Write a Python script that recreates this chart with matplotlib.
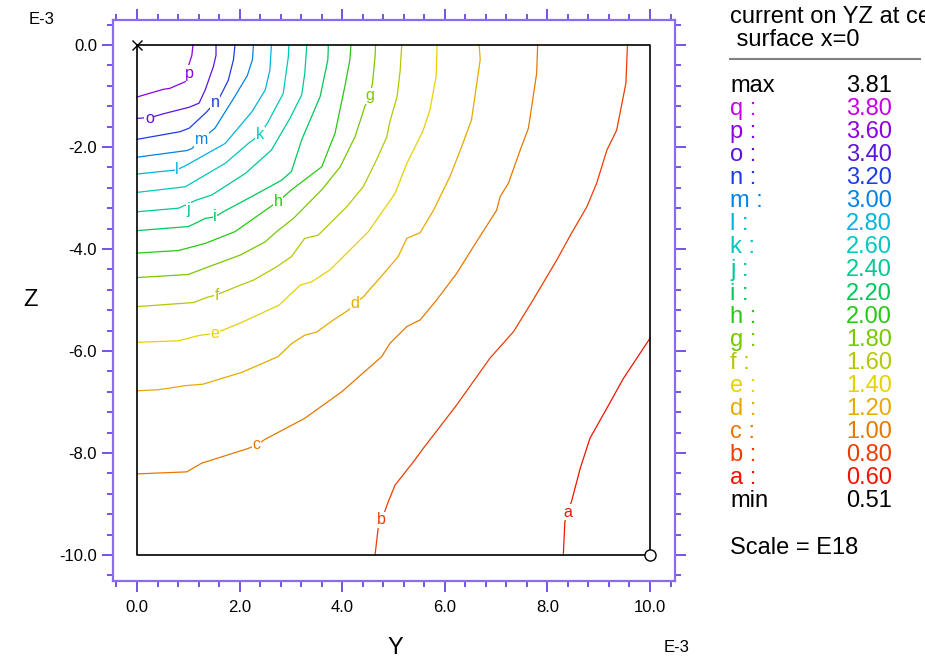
import numpy as np
import matplotlib
matplotlib.use("Agg")
import matplotlib.pyplot as plt
from matplotlib.ticker import MultipleLocator

plt.rcParams['font.family'] = ['Liberation Sans', 'DejaVu Sans']

# contour levels (scale E18)
level_names = list("abcdefghijklmnopq")
level_values = [0.60, 0.80, 1.00, 1.20, 1.40, 1.60, 1.80, 2.00, 2.20,
                2.40, 2.60, 2.80, 3.00, 3.20, 3.40, 3.60, 3.80]
level_colors = ['#f01400', '#f03c00', '#e67800', '#e6aa00', '#e6d200',
                '#b4c800', '#78c800', '#28c814', '#00c85a', '#00c896',
                '#00c8c0', '#00b4dc', '#0082e6', '#1e3ce6', '#5a14dc',
                '#8c00e6', '#c800e6']
value_max = 3.81
value_min = 0.51

# contour lines, Y and Z in E-3
a_y = [10.0, 9.48, 9.16, 8.83, 8.64, 8.47, 8.39, 8.34, 8.31]
a_z = [-5.75, -6.54, -7.12, -7.71, -8.30, -8.95, -9.16, -9.35, -10.0]
b_y = [9.56, 9.53, 9.35, 9.16, 8.96, 8.77, 8.47, 8.18, 7.72, 7.34, 6.88,
       6.23, 5.58, 5.39, 5.03, 4.90, 4.77, 4.70, 4.64]
b_z = [0.0, -0.75, -1.67, -2.06, -2.71, -3.17, -3.69, -4.22, -5.00, -5.62,
       -6.14, -7.06, -7.91, -8.17, -8.63, -8.95, -9.31, -9.48, -10.0]
c_y = [7.81, 7.79, 7.63, 7.47, 7.24, 7.08, 7.01, 6.56, 6.23, 5.84, 5.52,
       5.26, 4.93, 4.77, 4.51, 3.99, 3.27, 2.50, 2.33, 2.17, 1.26, 0.97, 0.0]
c_z = [0.0, -0.56, -1.63, -2.06, -2.71, -2.97, -3.24, -3.95, -4.48, -5.00,
       -5.39, -5.52, -5.85, -6.11, -6.34, -6.80, -7.32, -7.73, -7.84, -7.91,
       -8.20, -8.37, -8.41]
d_y = [6.67, 6.69, 6.52, 6.33, 6.10, 5.78, 5.52, 5.26, 5.09, 4.87, 4.41,
       4.25, 4.12, 3.83, 3.50, 3.27, 3.02, 2.75, 2.04, 1.29, 0.94, 0.42, 0.0]
d_z = [0.0, -0.29, -1.47, -1.99, -2.58, -3.24, -3.68, -3.79, -4.15, -4.41,
       -4.94, -5.06, -5.20, -5.39, -5.63, -5.69, -5.85, -6.11, -6.42, -6.65,
       -6.68, -6.76, -6.78]
e_y = [5.85, 5.83, 5.71, 5.58, 5.39, 5.26, 5.03, 4.51, 4.15, 3.76, 3.41,
       3.18, 2.77, 2.04, 1.75, 1.52, 1.19, 0.81, 0.0]
e_z = [0.0, -0.62, -1.27, -1.67, -2.06, -2.32, -2.91, -3.66, -4.02, -4.41,
       -4.64, -4.71, -5.10, -5.44, -5.56, -5.65, -5.70, -5.80, -5.83]
f_y = [5.16, 5.13, 5.07, 4.93, 4.87, 4.67, 4.41, 4.09, 3.53, 3.27, 3.01,
       2.72, 2.27, 2.01, 1.55, 1.36, 1.10, 0.0]
f_z = [0.0, -0.50, -1.01, -1.50, -1.80, -2.25, -2.78, -3.17, -3.73, -3.79,
       -4.15, -4.35, -4.61, -4.71, -4.90, -4.95, -5.05, -5.13]
g_y = [4.65, 4.64, 4.59, 4.53, 4.44, 4.25, 3.96, 3.60, 3.05, 2.72, 2.50,
       2.01, 1.26, 1.00, 0.0]
g_z = [0.0, -0.23, -0.75, -1.01, -1.21, -1.80, -2.39, -2.84, -3.40, -3.66,
       -3.86, -4.12, -4.40, -4.50, -4.56]
h_y = [4.17, 4.15, 4.05, 3.86, 3.60, 3.01, 2.75, 2.56, 1.91, 1.33, 0.81, 0.0]
h_z = [0.0, -0.29, -0.82, -1.73, -2.39, -2.84, -3.07, -3.20, -3.66, -3.89,
       -4.03, -4.08]
i_y = [3.73, 3.72, 3.57, 3.21, 3.01, 2.82, 2.24, 1.68, 1.52, 1.33, 1.13,
       1.00, 0.0]
i_z = [0.0, -0.29, -1.01, -1.86, -2.48, -2.65, -2.97, -3.27, -3.37, -3.40,
       -3.50, -3.56, -3.64]
j_y = [3.31, 3.27, 3.21, 2.98, 2.62, 2.11, 1.46, 1.16, 0.81, 0.0]
j_z = [0.0, -0.56, -0.98, -1.44, -2.06, -2.52, -2.94, -3.04, -3.20, -3.27]
k_y = [2.96, 2.95, 2.85, 2.56, 2.40, 2.17, 1.72, 0.94, 0.0]
k_z = [0.0, -0.23, -0.95, -1.50, -1.76, -1.93, -2.32, -2.78, -2.89]
l_y = [2.62, 2.59, 2.50, 2.24, 1.72, 0.94, 0.77, 0.0]
l_z = [0.0, -0.49, -0.88, -1.31, -1.93, -2.37, -2.45, -2.53]
m_y = [2.27, 2.25, 2.15, 1.90, 1.52, 1.26, 1.07, 0.97, 0.0]
m_z = [0.0, -0.29, -0.60, -1.02, -1.63, -1.85, -2.03, -2.07, -2.20]
n_y = [1.91, 1.88, 1.78, 1.62, 1.36, 1.02, 0.84, 0.0]
n_z = [0.0, -0.29, -0.69, -1.01, -1.31, -1.63, -1.70, -1.85]
o_y = [1.54, 1.54, 1.49, 1.33, 1.21, 1.02, 0.51, 0.27, 0.0]
o_z = [0.0, -0.20, -0.42, -0.88, -1.14, -1.22, -1.35, -1.42, -1.44]
p_y = [1.09, 1.07, 1.00, 0.94, 0.64, 0.51, 0.0]
p_z = [0.0, -0.20, -0.42, -0.72, -0.85, -0.87, -1.02]

contours = {'a': (a_y, a_z), 'b': (b_y, b_z), 'c': (c_y, c_z),
            'd': (d_y, d_z), 'e': (e_y, e_z), 'f': (f_y, f_z),
            'g': (g_y, g_z), 'h': (h_y, h_z), 'i': (i_y, i_z),
            'j': (j_y, j_z), 'k': (k_y, k_z), 'l': (l_y, l_z),
            'm': (m_y, m_z), 'n': (n_y, n_z), 'o': (o_y, o_z),
            'p': (p_y, p_z)}
label_pos = {'a': (8.39, -9.16), 'b': (4.77, -9.31), 'c': (2.33, -7.84),
             'd': (4.25, -5.06), 'e': (1.52, -5.65), 'f': (1.55, -4.92),
             'g': (4.53, -1.00), 'h': (2.75, -3.07), 'i': (1.52, -3.37),
             'j': (1.00, -3.22), 'k': (2.40, -1.76), 'l': (0.78, -2.45),
             'm': (1.26, -1.85), 'n': (1.52, -1.13), 'o': (0.24, -1.44),
             'p': (1.02, -0.55)}

W, H = 925, 660
frame_col = '#8a6cf0'
tick_col = '#6a44e8'

fig = plt.figure(figsize=(W / 100, H / 100), dpi=100)
ax = fig.add_axes([113 / W, 1 - 581 / H, 562 / W, 561 / H])
ax.set_xlim(-0.468, 10.487)
ax.set_ylim(-10.51, 0.49)

for name, col in zip(level_names, level_colors):
    if name not in contours:
        continue
    ys, zs = contours[name]
    ax.plot(ys, zs, color=col, lw=0.9, zorder=2)
    lx, lz = label_pos[name]
    ax.text(lx, lz, name, color=col, fontsize=11.5, ha='center', va='center',
            zorder=3, bbox=dict(facecolor='white', edgecolor='none', pad=0.5))

# domain box and markers
ax.plot([0, 10, 10, 0, 0], [0, 0, -10, -10, 0], color='black', lw=1.2, zorder=4)
ax.plot([0], [0], marker='x', color='black', ms=7, mew=1, clip_on=False, zorder=5)
ax.plot([10], [-10], marker='o', mfc='white', mec='black', ms=8, mew=1,
        clip_on=False, zorder=5)

ticks = np.arange(0, 10.1, 2)
ax.set_xticks(ticks)
ax.set_xticklabels([f"{t:.1f}" for t in ticks])
ax.set_yticks(-ticks)
ax.set_yticklabels(["0.0"] + [f"-{t:.1f}" for t in ticks[1:]])
ax.xaxis.set_minor_locator(MultipleLocator(0.4))
ax.yaxis.set_minor_locator(MultipleLocator(0.4))
ax.tick_params(which='both', direction='out', top=True, right=True,
               color=tick_col, width=1.3, labelsize=12, labelcolor='black')
ax.tick_params(which='major', length=8)
ax.tick_params(which='minor', length=4)
ax.tick_params(axis='x', pad=6)
ax.tick_params(axis='y', pad=3.5)
for sp in ax.spines.values():
    sp.set_color(frame_col)
    sp.set_linewidth(1.6)


def fx(px):
    return px / W


def fy(py):
    return 1 - py / H


fig.text(fx(30), fy(300), 'Z', fontsize=17, ha='center', va='center')
fig.text(fx(395), fy(648), 'Y', fontsize=17, ha='center', va='center')
fig.text(fx(42), fy(20), 'E-3', fontsize=12, ha='center', va='center')
fig.text(fx(677), fy(648), 'E-3', fontsize=12, ha='center', va='center')

# legend panel
fig.text(fx(730), fy(17), 'current on YZ at center', fontsize=17,
         ha='left', va='center')
fig.text(fx(730), fy(40), ' surface x=0', fontsize=17, ha='left', va='center')
fig.add_artist(plt.Line2D([fx(730), fx(920)], [fy(59), fy(59)],
                          color='#808080', lw=1.5))

rows = [('max', value_max, 'black')]
for name, val, col in zip(level_names[::-1], level_values[::-1], level_colors[::-1]):
    rows.append((name + ' :', val, col))
rows.append(('min', value_min, 'black'))

row_top, row_step = 86, 23.06
for r, (lab, val, col) in enumerate(rows):
    yy = row_top + r * row_step
    fig.text(fx(730), fy(yy), lab, color=col, fontsize=17, ha='left', va='center')
    fig.text(fx(892), fy(yy), f"{val:.2f}", color=col, fontsize=17,
             ha='right', va='center')

fig.text(fx(730), fy(548), 'Scale = E18', fontsize=17, ha='left', va='center')

fig.savefig('out.png', dpi=100)
